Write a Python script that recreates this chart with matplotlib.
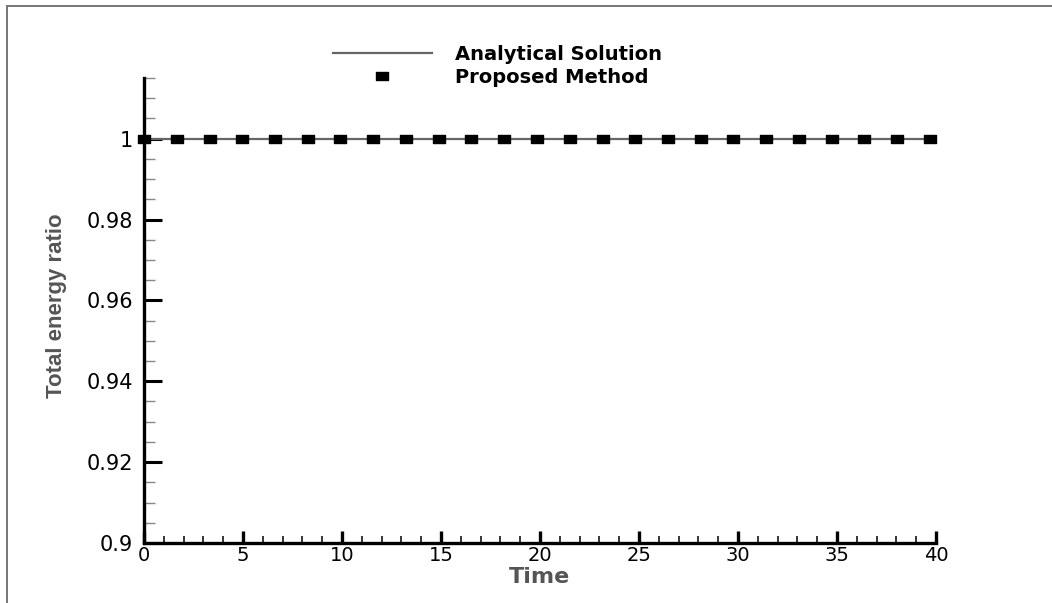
import matplotlib
matplotlib.use("Agg")
import matplotlib.pyplot as plt
from matplotlib.lines import Line2D
from matplotlib.path import Path
from matplotlib.ticker import MultipleLocator

# data
time = [0, 1.65, 3.31, 4.96, 6.62, 8.27, 9.92, 11.58, 13.23, 14.89, 16.54, 18.19,
        19.85, 21.5, 23.16, 24.81, 26.46, 28.12, 29.77, 31.43, 33.08, 34.73,
        36.39, 38.04, 39.7]
analytical = [1.0] * 25
proposed = [1.0, 1.0, 1.0, 1.0, 1.0, 1.0, 1.0, 1.0, 1.0, 1.0, 1.0, 1.0, 1.0,
            1.0, 1.0, 1.0, 1.0, 1.0, 1.0, 1.0, 1.0, 1.0, 1.0, 1.0, 0.9998]
yticks = [0.9, 0.92, 0.94, 0.96, 0.98, 1.0]
ytick_labels = ["0.9", "0.92", "0.94", "0.96", "0.98", "1"]

plt.rcParams['font.family'] = ['DejaVu Sans']

fig = plt.figure(figsize=(10.52, 6.03), dpi=100)
ax = fig.add_axes([0.1369, 0.0995, 0.7528, 0.7711])

# rectangular marker, wider than tall
rect = Path([(-1.5, -1), (1.5, -1), (1.5, 1), (-1.5, 1), (-1.5, -1)],
            [Path.MOVETO, Path.LINETO, Path.LINETO, Path.LINETO, Path.CLOSEPOLY])

ax.plot(time, analytical, color='#666666', lw=1.6, label='Analytical Solution', zorder=3)
ax.plot(time, proposed, ls='none', marker=rect, markersize=8.5, color='black',
        label='Proposed Method', zorder=4, clip_on=False)

ax.set_xlim(0, 40)
ax.set_ylim(0.9, 1.015)

for s in ['top', 'right']:
    ax.spines[s].set_visible(False)
for s in ['left', 'bottom']:
    ax.spines[s].set_linewidth(2.4)

ax.xaxis.set_major_locator(MultipleLocator(5))
ax.xaxis.set_minor_locator(MultipleLocator(1))
ax.set_yticks(yticks)
ax.set_yticklabels(ytick_labels)
ax.yaxis.set_minor_locator(MultipleLocator(0.005))

ax.tick_params(axis='x', which='major', direction='in', length=8.5, width=2.4,
               labelsize=14, pad=2)
ax.tick_params(axis='x', which='minor', direction='in', length=5, width=1.1)
ax.tick_params(axis='y', which='major', direction='in', length=13, width=2.2,
               labelsize=15, pad=8)
ax.tick_params(axis='y', which='minor', direction='in', length=8, width=1.0,
               color='#888888')

ax.set_xlabel('Time', fontsize=16, fontweight='bold', color='#555555')
ax.xaxis.set_label_coords(0.5, -0.052)
ax.set_ylabel('Total energy ratio', fontsize=16, fontweight='bold', color='#555555',
              family=['Liberation Sans'])
ax.yaxis.set_label_coords(-0.097, 0.51)

leg = fig.legend(loc='upper left', bbox_to_anchor=(0.307, 0.941), frameon=False,
                 prop={'weight': 'bold', 'size': 14}, handlelength=5.1,
                 handletextpad=1.2, labelspacing=0.2, borderpad=0, numpoints=1)

# partial frame around the figure
fig.add_artist(Line2D([7 / 1052, 1], [1 - 6 / 603, 1 - 6 / 603], color='#777777', lw=1.4))
fig.add_artist(Line2D([7 / 1052, 7 / 1052], [0, 1 - 6 / 603], color='#777777', lw=1.4))

plt.savefig('out.png', dpi=100)
